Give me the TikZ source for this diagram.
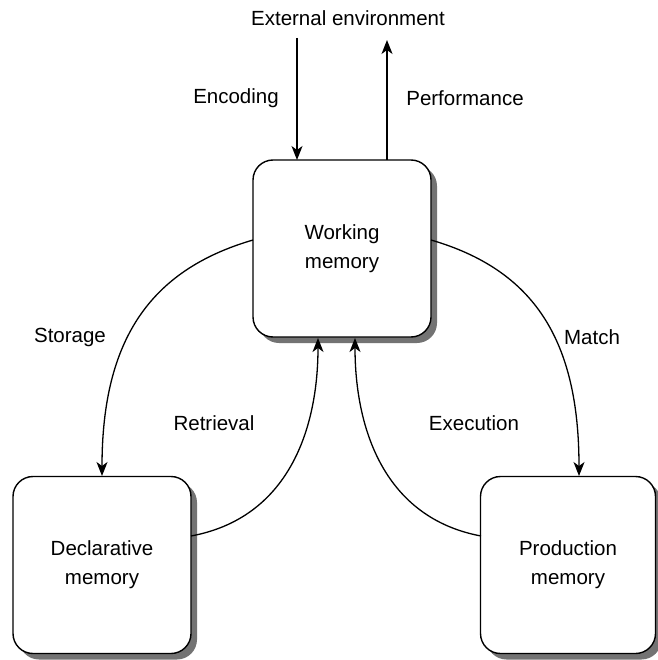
\documentclass[tikz,border=0pt]{standalone}
\usepackage{fontspec}
\setmainfont{Liberation Sans}
\usetikzlibrary{arrows.meta,shadows}
\begin{document}
\begin{tikzpicture}[x=1pt,y=-1pt,
  every node/.style={font=\fontsize{20.5}{29}\selectfont},
  membox/.style={draw, line width=1.4pt, rounded corners=20pt, fill=white,
    minimum width=178pt, minimum height=177pt, inner sep=0pt, align=center,
    drop shadow={shadow xshift=6pt, shadow yshift=-6pt, fill=black!55, opacity=1}},
  lbl/.style={inner sep=0pt, anchor=center},
  arr/.style={line width=1.3pt, -{Stealth[length=14pt,width=11pt,inset=4pt]}}
]
\useasboundingbox (0,0) rectangle (657,660);
% boxes
\node[membox] (wm) at (342,248.5) {Working\\memory};
\node[membox] (dm) at (102,565) {Declarative\\memory};
\node[membox, minimum width=175pt] (pm) at (568,565) {Production\\memory};
% labels
\node[lbl] (ext) at (348,18) {External environment};
\node[lbl] (enc) at (236,98) {Encoding};
\node[lbl] (perf) at (465,98) {Performance};
\node[lbl] (sto) at (70,337) {Storage};
\node[lbl] (mat) at (592,337) {Match};
\node[lbl] (ret) at (214,423) {Retrieval};
\node[lbl] (exe) at (474,423) {Execution};
% coordinates
\coordinate (encTop) at (297,38);
\coordinate (encEnd) at (297,160);
\coordinate (perfTop) at (387,40);
\coordinate (perfStart) at (387,160);
\coordinate (wmL) at (253,240);
\coordinate (wmR) at (431,240);
\coordinate (wmB1) at (318,338);
\coordinate (wmB2) at (355,338);
\coordinate (dmT) at (102,476);
\coordinate (pmT) at (579,476);
\coordinate (dmR) at (191,536);
\coordinate (pmL) at (481,536);
% arrows
\draw[arr] (encTop) -- (encEnd);
\draw[arr] (perfStart) -- (perfTop);
\draw[arr] (wmL) .. controls (150,270) and (102,340) .. (dmT);
\draw[arr] (wmR) .. controls (534,270) and (579,340) .. (pmT);
\draw[arr] (dmR) .. controls (288,518) and (318,430) .. (wmB1);
\draw[arr] (pmL) .. controls (385,518) and (355,430) .. (wmB2);
\end{tikzpicture}
\end{document}
